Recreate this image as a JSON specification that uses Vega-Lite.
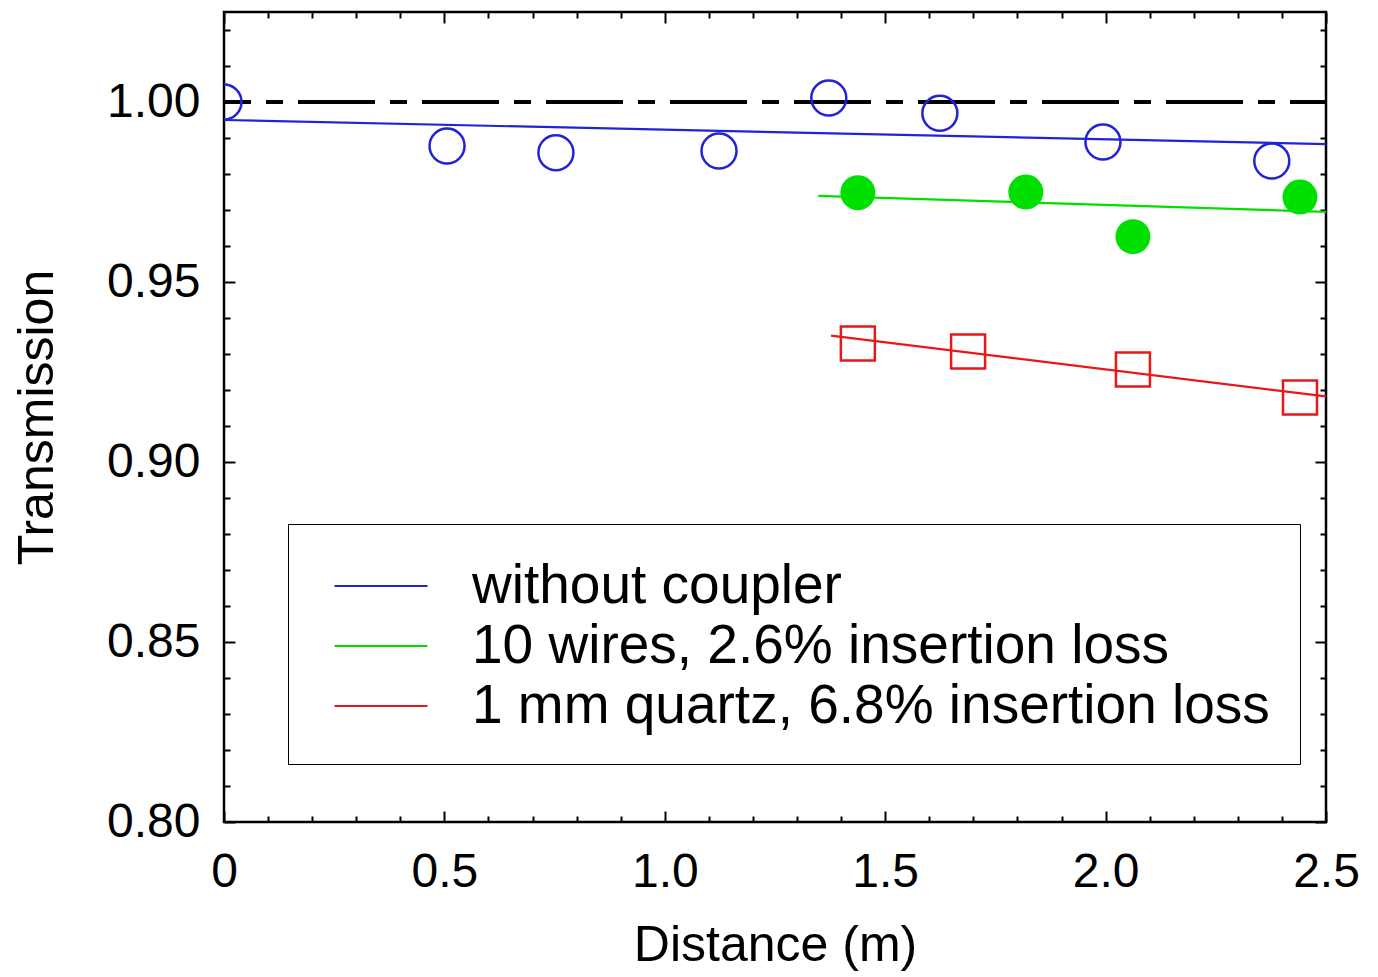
{
  "$schema": "https://vega.github.io/schema/vega-lite/v6.json",
  "width": 1102,
  "height": 810,
  "autosize": {"type": "none"},
  "padding": {"left": 224, "top": 12, "right": 52, "bottom": 155},
  "background": "white",
  "config": {
    "view": {"stroke": "black", "strokeWidth": 2.5},
    "font": "Liberation Sans",
    "axis": {
      "grid": false,
      "domain": false,
      "tickColor": "black",
      "tickWidth": 2,
      "labelColor": "black",
      "titleColor": "black",
      "labelFont": "Liberation Sans",
      "titleFont": "Liberation Sans",
      "labelFontSize": 48,
      "titleFontSize": 50,
      "titleFontWeight": "normal",
      "labelOverlap": false,
      "labelFlush": false
    }
  },
  "datasets": {
    "points": [
      {"series": "without coupler", "d": 0.0, "t": 1.0},
      {"series": "without coupler", "d": 0.506, "t": 0.9878},
      {"series": "without coupler", "d": 0.753, "t": 0.9859},
      {"series": "without coupler", "d": 1.123, "t": 0.9864},
      {"series": "without coupler", "d": 1.372, "t": 1.0011},
      {"series": "without coupler", "d": 1.624, "t": 0.9969},
      {"series": "without coupler", "d": 1.994, "t": 0.9889},
      {"series": "without coupler", "d": 2.377, "t": 0.9836},
      {"series": "10 wires, 2.6% insertion loss", "d": 1.438, "t": 0.9748},
      {"series": "10 wires, 2.6% insertion loss", "d": 1.819, "t": 0.975},
      {"series": "10 wires, 2.6% insertion loss", "d": 2.062, "t": 0.9626},
      {"series": "10 wires, 2.6% insertion loss", "d": 2.441, "t": 0.9736},
      {"series": "1 mm quartz, 6.8% insertion loss", "d": 1.438, "t": 0.9329},
      {"series": "1 mm quartz, 6.8% insertion loss", "d": 1.688, "t": 0.9307},
      {"series": "1 mm quartz, 6.8% insertion loss", "d": 2.062, "t": 0.9257},
      {"series": "1 mm quartz, 6.8% insertion loss", "d": 2.441, "t": 0.9179}
    ],
    "fits": [
      {"series": "without coupler", "d": 0.0, "t": 0.995},
      {"series": "without coupler", "d": 2.5, "t": 0.9883},
      {"series": "10 wires, 2.6% insertion loss", "d": 1.348, "t": 0.9739},
      {"series": "10 wires, 2.6% insertion loss", "d": 2.5, "t": 0.9695},
      {"series": "1 mm quartz, 6.8% insertion loss", "d": 1.377, "t": 0.9351},
      {"series": "1 mm quartz, 6.8% insertion loss", "d": 2.5, "t": 0.9182}
    ]
  },
  "layer": [
    {
      "data": {"name": "fits"},
      "mark": {"type": "point", "opacity": 0},
      "encoding": {
        "x": {
          "field": "d", "type": "quantitative",
          "scale": {"domain": [0, 2.5], "nice": false, "zero": false},
          "axis": {
            "orient": "bottom",
            "title": "Distance (m)",
            "values": [0,0.1,0.2,0.3,0.4,0.5,0.6,0.7,0.8,0.9,1.0,1.1,1.2,1.3,1.4,1.5,1.6,1.7,1.8,1.9,2.0,2.1,2.2,2.3,2.4,2.5],
            "labelExpr": "abs(datum.value*2-round(datum.value*2))<0.001 ? (datum.value==0 ? '0' : format(datum.value,'.1f')) : ''",
            "tickSize": {"condition": {"test": "abs(datum.value*2-round(datum.value*2))<0.001", "value": -11}, "value": -6},
            "labelPadding": 37,
            "titlePadding": 19
          }
        },
        "y": {
          "field": "t", "type": "quantitative",
          "scale": {"domain": [0.8, 1.025], "nice": false, "zero": false},
          "axis": {
            "orient": "left",
            "title": "Transmission",
            "values": [0.8,0.81,0.82,0.83,0.84,0.85,0.86,0.87,0.88,0.89,0.9,0.91,0.92,0.93,0.94,0.95,0.96,0.97,0.98,0.99,1.0,1.01,1.02],
            "labelExpr": "abs(datum.value*20-round(datum.value*20))<0.001 ? format(datum.value,'.2f') : ''",
            "tickSize": {"condition": {"test": "abs(datum.value*20-round(datum.value*20))<0.001", "value": -11}, "value": -6},
            "labelPadding": 35,
            "titlePadding": 44
          }
        }
      }
    },
    {
      "data": {"name": "fits"},
      "mark": {"type": "point", "opacity": 0},
      "encoding": {
        "x": {
          "field": "d", "type": "quantitative",
          "scale": {"domain": [0, 2.5], "nice": false, "zero": false},
          "axis": {
            "orient": "top",
            "title": null,
            "labels": false,
            "values": [0,0.1,0.2,0.3,0.4,0.5,0.6,0.7,0.8,0.9,1.0,1.1,1.2,1.3,1.4,1.5,1.6,1.7,1.8,1.9,2.0,2.1,2.2,2.3,2.4,2.5],
            "tickSize": {"condition": {"test": "abs(datum.value*2-round(datum.value*2))<0.001", "value": -11}, "value": -6}
          }
        },
        "y": {
          "field": "t", "type": "quantitative",
          "scale": {"domain": [0.8, 1.025], "nice": false, "zero": false},
          "axis": {
            "orient": "right",
            "title": null,
            "labels": false,
            "values": [0.8,0.81,0.82,0.83,0.84,0.85,0.86,0.87,0.88,0.89,0.9,0.91,0.92,0.93,0.94,0.95,0.96,0.97,0.98,0.99,1.0,1.01,1.02],
            "tickSize": {"condition": {"test": "abs(datum.value*20-round(datum.value*20))<0.001", "value": -11}, "value": -6}
          }
        }
      }
    },
    {
      "data": {"name": "fits"},
      "mark": {"type": "rule", "color": "black", "strokeWidth": 3, "strokeDash": [77, 15, 17, 15], "strokeDashOffset": 41},
      "encoding": {
        "y": {"datum": 1.0, "type": "quantitative", "scale": {"domain": [0.8, 1.025], "nice": false, "zero": false}, "axis": null}
      }
    },
    {
      "data": {"name": "fits"},
      "mark": {"type": "line", "strokeWidth": 2.2, "clip": true},
      "encoding": {
        "x": {"field": "d", "type": "quantitative", "scale": {"domain": [0, 2.5], "nice": false, "zero": false}, "axis": null},
        "y": {"field": "t", "type": "quantitative", "scale": {"domain": [0.8, 1.025], "nice": false, "zero": false}, "axis": null},
        "color": {
          "field": "series", "type": "nominal",
          "scale": {
            "domain": ["without coupler", "10 wires, 2.6% insertion loss", "1 mm quartz, 6.8% insertion loss"],
            "range": ["#2222d8", "#00e000", "#e81818"]
          },
          "legend": {
            "orient": "none",
            "legendX": 64,
            "legendY": 512,
            "title": null,
            "symbolType": "M-0.5,0H2.5",
            "symbolSize": 3844,
            "symbolStrokeWidth": 2,
            "labelFontSize": 55,
            "labelFont": "Liberation Sans",
            "labelColor": "black",
            "labelOffset": 90,
            "labelLimit": 0,
            "rowPadding": 0,
            "padding": 30,
            "strokeColor": "black",
            "fillColor": "white"
          }
        },
        "detail": {"field": "series"}
      }
    },
    {
      "data": {"name": "points"},
      "transform": [{"filter": "datum.series == 'without coupler'"}],
      "mark": {"type": "point", "shape": "circle", "filled": false, "color": "#2222d8", "opacity": 1, "size": 1225, "strokeWidth": 2.5, "clip": true},
      "encoding": {
        "x": {"field": "d", "type": "quantitative", "scale": {"domain": [0, 2.5], "nice": false, "zero": false}, "axis": null},
        "y": {"field": "t", "type": "quantitative", "scale": {"domain": [0.8, 1.025], "nice": false, "zero": false}, "axis": null}
      }
    },
    {
      "data": {"name": "points"},
      "transform": [{"filter": "datum.series == '10 wires, 2.6% insertion loss'"}],
      "mark": {"type": "point", "shape": "circle", "filled": true, "color": "#00e000", "opacity": 1, "size": 1225, "clip": true},
      "encoding": {
        "x": {"field": "d", "type": "quantitative", "scale": {"domain": [0, 2.5], "nice": false, "zero": false}, "axis": null},
        "y": {"field": "t", "type": "quantitative", "scale": {"domain": [0.8, 1.025], "nice": false, "zero": false}, "axis": null}
      }
    },
    {
      "data": {"name": "points"},
      "transform": [{"filter": "datum.series == '1 mm quartz, 6.8% insertion loss'"}],
      "mark": {"type": "point", "shape": "square", "filled": false, "color": "#e81818", "opacity": 1, "size": 1156, "strokeWidth": 2.5, "clip": true},
      "encoding": {
        "x": {"field": "d", "type": "quantitative", "scale": {"domain": [0, 2.5], "nice": false, "zero": false}, "axis": null},
        "y": {"field": "t", "type": "quantitative", "scale": {"domain": [0.8, 1.025], "nice": false, "zero": false}, "axis": null}
      }
    }
  ],
  "resolve": {"axis": {"x": "independent", "y": "independent"}}
}
